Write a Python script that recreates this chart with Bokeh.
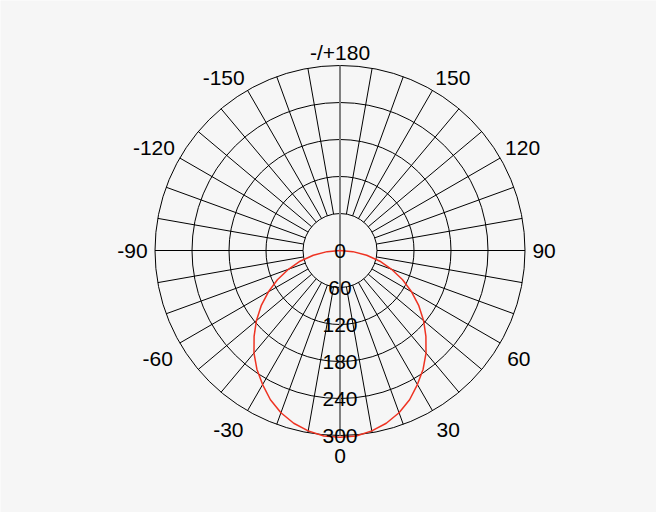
import numpy as np
from bokeh.plotting import figure
from bokeh.models import Range1d
from bokeh.core.properties import value
from bokeh.embed import file_html
from bokeh.resources import INLINE

# ---- data ----
curve_angles = [-90, -85, -80, -75, -70, -65, -60, -55, -50, -45, -40, -35, -30, -25, -20, -15, -10, -5,
                0, 5, 10, 15, 20, 25, 30, 35, 40, 45, 50, 55, 60, 65, 70, 75, 80, 85, 90]
curve_values = [0, 21, 44, 67, 89, 112, 134, 156, 177, 197, 217, 235, 251, 267, 280, 290, 297, 302,
                303, 302, 297, 290, 280, 267, 251, 235, 217, 197, 177, 156, 134, 112, 89, 67, 44, 21, 0]
ring_values = [60, 120, 180, 240, 300]
radial_labels = ["0", "60", "120", "180", "240", "300"]
radial_label_values = [0, 60, 120, 180, 240, 300]
spoke_angles = [a for a in range(-170, 180, 10) if a != 0]
angle_ticks = [0, 30, 60, 90, 120, 150, 180, -150, -120, -90, -60, -30]
angle_labels = ["0", "30", "60", "90", "120", "150", "-/+180", "-150", "-120", "-90", "-60", "-30"]
r_min, r_max = 60, 300

BG = "#f6f6f6"
W, H = 656, 512
cx_px, cy_px = 339.5, 250.0   # center of the polar plot inside the figure
s = 185.0 / r_max             # px per unit

p = figure(width=W, height=H, output_backend="svg", toolbar_location=None,
           x_range=Range1d(-cx_px / s, (W - cx_px) / s),
           y_range=Range1d(-(H - cy_px) / s, cy_px / s),
           min_border=0, match_aspect=False)
p.axis.visible = False
p.grid.visible = False
p.outline_line_color = None
p.background_fill_color = BG
p.border_fill_color = BG


def pol(r, deg):
    t = np.radians(np.asarray(deg, dtype=float))
    r = np.asarray(r, dtype=float)
    return r * np.sin(t), -r * np.cos(t)

# rings
p.circle(x=[0] * len(ring_values), y=[0] * len(ring_values), radius=ring_values,
         fill_color=None, line_color="#000000", line_width=1)

# spokes
sx0, sy0 = pol([r_min] * len(spoke_angles), spoke_angles)
sx1, sy1 = pol([r_max] * len(spoke_angles), spoke_angles)
p.segment(x0=sx0, y0=sy0, x1=sx1, y1=sy1, line_color="#000000", line_width=1)

# main 0 / 180 axis
ax0, ay0 = pol([r_max], [180])
ax1, ay1 = pol([r_max], [0])
p.segment(x0=ax0, y0=ay0, x1=ax1, y1=ay1, line_color="#808080", line_width=2)

# curve
cxs, cys = pol(curve_values, curve_angles)
p.line(cxs, cys, line_color="#ee3322", line_width=1.5)

FONT = value("Liberation Sans")
FS = "21px"

# radial labels
rx, ry = pol(radial_label_values, [0] * len(radial_label_values))
p.text(x=rx, y=ry, text=radial_labels, text_font=FONT, text_font_size=FS,
       text_align="center", text_baseline="middle", text_color="#000000")

# angle labels, grouped by placement
groups = {}
for a, lab in zip(angle_ticks, angle_labels):
    sn = np.sin(np.radians(a))
    cs = np.cos(np.radians(a))
    align = "left" if sn > 0.01 else ("right" if sn < -0.01 else "center")
    if cs > 0.01:
        base, rr, yoff = "top", 313, 5
    elif cs < -0.01:
        base, rr, yoff = "middle", 309, -7
    else:
        base, rr, yoff = "middle", 312, 0
    groups.setdefault((align, base, yoff), []).append((a, lab, rr))

for (align, base, yoff), items in groups.items():
    xs, ys = pol([it[2] for it in items], [it[0] for it in items])
    p.text(x=xs, y=ys, text=[it[1] for it in items], text_font=FONT, text_font_size=FS,
           text_align=align, text_baseline=base, y_offset=yoff, text_color="#000000")

html = file_html(p, INLINE)
html = html.replace("<body>", '<body style="background-color:%s;">' % BG, 1)
open("out.html", "w").write(html)
